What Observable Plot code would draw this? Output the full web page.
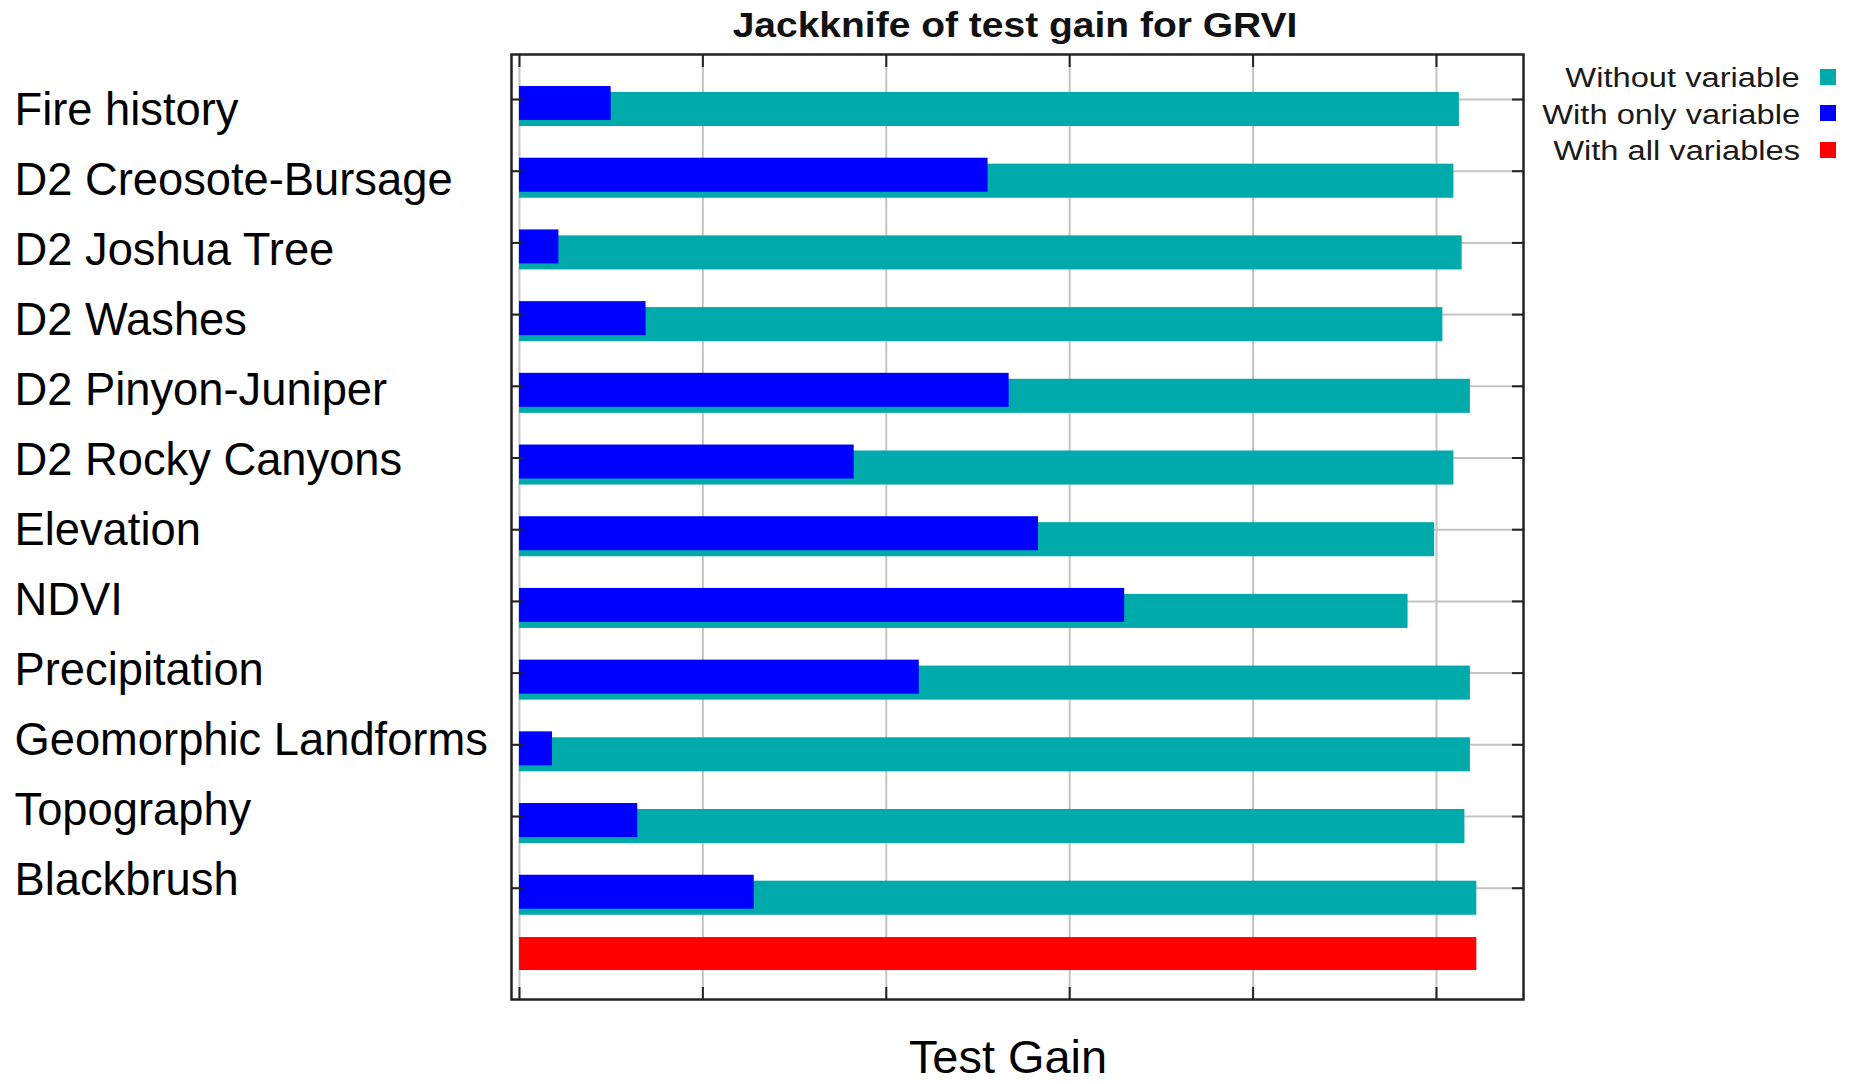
<!DOCTYPE html>
<html>
<head>
<meta charset="utf-8">
<script src="https://cdn.jsdelivr.net/npm/d3@7"></script>
<script src="https://cdn.jsdelivr.net/npm/@observablehq/plot@0.6"></script>
<style>
  body { margin: 0; background: #fff; }
  #wrap { position: relative; width: 1854px; height: 1084px; overflow: hidden;
          font-family: "Liberation Sans", Arial, sans-serif; color: #000; }
  #chart, #labels { position: absolute; left: 0; top: 0; }
  .title { position: absolute; left: 1015px; top: 8px; font-size: 34.5px; line-height: 34.5px;
           font-weight: bold; color: #111; white-space: nowrap;
           transform: translateX(-50%) scaleX(1.13); }
  .xlabel { position: absolute; left: 1008px; top: 1032px; font-size: 46px; line-height: 51px;
            white-space: nowrap; transform: translateX(-50%) scaleX(1.02); }
  .legend { position: absolute; right: 18px; top: 60.5px; }
  .legend .row { display: flex; align-items: center; justify-content: flex-end; height: 36.5px; }
  .legend .lab { font-size: 27px; line-height: 27px; color: #1a1a1a; white-space: nowrap;
                 transform-origin: right center; transform: scaleX(1.21); margin-right: 20px; }
  .legend .sw { width: 16px; height: 16px; position: relative; top: -2px; }
</style>
</head>
<body>
<div id="wrap">
  <div id="chart"></div>
  <div id="labels"></div>
  <div class="title" id="title"></div>
  <div class="legend" id="legend"></div>
  <div class="xlabel" id="xlabel"></div>
</div>
<script>
// ---- data ----
const titleText = "Jackknife of test gain for GRVI";
const xLabelText = "Test Gain";
const variables = [
  "Fire history", "D2 Creosote-Bursage", "D2 Joshua Tree", "D2 Washes",
  "D2 Pinyon-Juniper", "D2 Rocky Canyons", "Elevation", "NDVI",
  "Precipitation", "Geomorphic Landforms", "Topography", "Blackbrush"
];
const withoutVariable  = [1.025, 1.019, 1.028, 1.007, 1.037, 1.019, 0.998, 0.969, 1.037, 1.037, 1.031, 1.044];
const withOnlyVariable = [0.100, 0.511, 0.043, 0.138, 0.534, 0.365, 0.566, 0.660, 0.436, 0.036, 0.129, 0.256];
const withAllVariables = 1.044;
const xTicks = [0, 0.2, 0.4, 0.6, 0.8, 1.0];
const seriesNames = ["Without variable", "With only variable", "With all variables"];
const seriesColors = ["#00AAAA", "#0000FF", "#FF0000"];

// ---- build ----
const rows = variables.map((name, i) => ({name, i, without: withoutVariable[i], only: withOnlyVariable[i]}));
const allRow = [{i: variables.length, all: withAllVariables}];
const rowIdx = variables.map((_, i) => i);

const chart = Plot.plot({
  width: 1854,
  height: 1084,
  marginLeft: 511,
  marginRight: 331,
  marginTop: 54,
  marginBottom: 85,
  style: {background: "transparent", fontFamily: "'Liberation Sans', Arial, sans-serif"},
  x: {domain: [-0.0087, 1.0949], axis: null},
  y: {domain: [-0.6276, 12.552], reverse: true, axis: null},
  marks: [
    Plot.gridX(xTicks, {stroke: "#c4c4c4", strokeOpacity: 1, strokeWidth: 2}),
    Plot.gridY(rowIdx, {stroke: "#c4c4c4", strokeOpacity: 1, strokeWidth: 2}),
    Plot.rectX(rows, {x1: 0, x2: "without", y1: d => d.i - 0.098, y2: d => d.i + 0.377, fill: seriesColors[0]}),
    Plot.rectX(rows, {x1: 0, x2: "only", y1: d => d.i - 0.181, y2: d => d.i + 0.293, fill: seriesColors[1]}),
    Plot.rectX(allRow, {x1: 0, x2: "all", y1: d => d.i - 0.312, y2: d => d.i + 0.148, fill: seriesColors[2]}),
    Plot.axisX(xTicks, {anchor: "bottom", tickSize: -12, tickFormat: () => "", label: null, stroke: "#222", strokeWidth: 2}),
    Plot.axisX(xTicks, {anchor: "top", tickSize: -12, tickFormat: () => "", label: null, stroke: "#222", strokeWidth: 2}),
    Plot.axisY(rowIdx, {anchor: "left", tickSize: -12, tickFormat: () => "", label: null, stroke: "#222", strokeWidth: 2}),
    Plot.axisY(rowIdx, {anchor: "right", tickSize: -12, tickFormat: () => "", label: null, stroke: "#222", strokeWidth: 2}),
    Plot.frame({stroke: "#222", strokeWidth: 2.5})
  ]
});
document.getElementById("chart").appendChild(chart);

// variable labels: separate overlay with its own point scale (labels are spaced independently of ticks)
const labels = Plot.plot({
  width: 511,
  height: 1084,
  margin: 0,
  style: {background: "transparent", fontFamily: "'Liberation Sans', Arial, sans-serif"},
  x: {domain: [0, 1], axis: null},
  y: {type: "point", domain: variables, range: [106, 884.7], padding: 0, axis: null},
  marks: [
    Plot.text(variables, {y: d => d, text: d => d, frameAnchor: "left", textAnchor: "start", dx: 14,
                          fontSize: 45.3, fill: "#000"})
  ]
});
document.getElementById("labels").appendChild(labels);

document.getElementById("title").textContent = titleText;
document.getElementById("xlabel").textContent = xLabelText;
const legend = document.getElementById("legend");
seriesNames.forEach((n, k) => {
  const r = document.createElement("div"); r.className = "row";
  const l = document.createElement("span"); l.className = "lab"; l.textContent = n;
  const s = document.createElement("span"); s.className = "sw"; s.style.background = seriesColors[k];
  r.appendChild(l); r.appendChild(s); legend.appendChild(r);
});
</script>
</body>
</html>
